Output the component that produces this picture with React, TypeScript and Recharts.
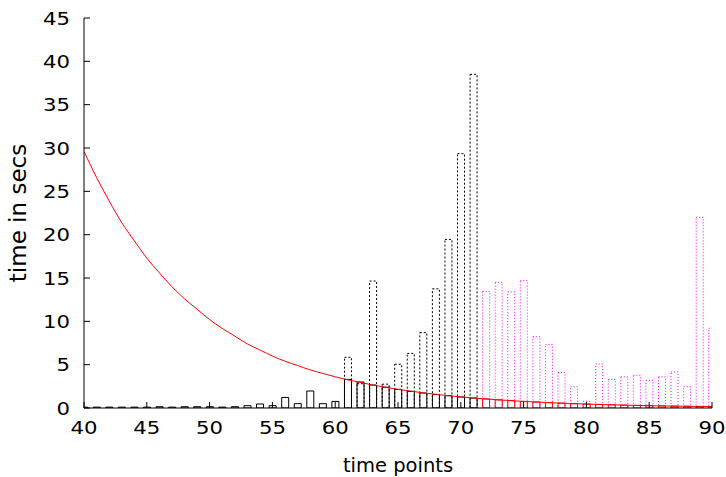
import React from 'react';
import { ComposedChart, Bar, Line, XAxis, YAxis } from 'recharts';

// time points on the x axis
const timePoints = [
  40, 41, 42, 43, 44, 45, 46, 47, 48, 49, 50, 51, 52, 53, 54, 55, 56, 57, 58, 59, 60,
  61, 62, 63, 64, 65, 66, 67, 68, 69, 70, 71, 72, 73, 74, 75, 76, 77, 78, 79, 80,
  81, 82, 83, 84, 85, 86, 87, 88, 89, 90,
];

// solid black boxes, time points 40..60
const measuredStart = 40;
const measured = [
  0.1, 0.1, 0.1, 0.1, 0.1, 0.1, 0.15, 0.1, 0.15, 0.15, 0.15,
  0.1, 0.15, 0.27, 0.46, 0.27, 1.22, 0.5, 1.96, 0.5, 0.76,
];

// dotted black boxes, time points 61..71
const observedStart = 61;
const observed = [5.85, 2.8, 14.65, 2.75, 5.05, 6.3, 8.7, 13.75, 19.45, 29.35, 38.5];

// solid black fit boxes, time points 61..71
const fitObserved = [3.3, 3.0, 2.65, 2.4, 2.15, 1.92, 1.73, 1.55, 1.42, 1.27, 1.15];

// dotted magenta boxes, time points 72..90
const predictedStart = 72;
const predicted = [
  13.45, 14.5, 13.4, 14.7, 8.23, 7.3, 4.1, 2.46, 0.77, 5.07,
  3.3, 3.6, 3.77, 3.19, 3.6, 4.15, 2.46, 22.0, 9.2,
];

// red fit boxes, time points 72..90
const fitPredicted = [
  1.04, 0.94, 0.85, 0.76, 0.69, 0.62, 0.56, 0.5, 0.45, 0.41,
  0.37, 0.33, 0.3, 0.27, 0.24, 0.22, 0.2, 0.18, 0.16,
];

// red fitted curve, time points 40..90
const fitCurve = [
  29.6, 26.6, 23.9, 21.4, 19.3, 17.3, 15.6, 14.0, 12.6, 11.4, 10.2,
  9.2, 8.3, 7.4, 6.7, 6.0, 5.4, 4.9, 4.4, 4.0, 3.6,
  3.25, 2.95, 2.65, 2.4, 2.15, 1.95, 1.75, 1.58, 1.42, 1.28,
  1.15, 1.04, 0.94, 0.85, 0.76, 0.69, 0.62, 0.56, 0.5, 0.45,
  0.41, 0.37, 0.33, 0.3, 0.27, 0.24, 0.22, 0.2, 0.18, 0.16,
];

const xTicks = [40, 45, 50, 55, 60, 65, 70, 75, 80, 85, 90];
const yTicks = [0, 5, 10, 15, 20, 25, 30, 35, 40, 45];

const pick = (arr: number[], start: number, x: number) => {
  const v = arr[x - start];
  return v === undefined ? null : v;
};

const data = timePoints.map((x) => ({
  x,
  measured: pick(measured, measuredStart, x),
  observed: pick(observed, observedStart, x),
  fitObserved: pick(fitObserved, observedStart, x),
  predicted: pick(predicted, predictedStart, x),
  fitPredicted: pick(fitPredicted, predictedStart, x),
  curve: pick(fitCurve, measuredStart, x),
}));

const FONT = '"DejaVu Sans", sans-serif';
const STRETCH = 1.18;
const TICK = 6;

const BottomTick = (props: any) => {
  const { x, y, payload } = props;
  return (
    <g>
      <line x1={x} y1={y} x2={x} y2={y - TICK} stroke="#000" />
      <text
        transform={`translate(${x},${y + 26}) scale(${STRETCH},1)`}
        textAnchor="middle"
        fontFamily={FONT}
        fontSize={18}
        fill="#000"
      >
        {payload.value}
      </text>
    </g>
  );
};

const TopTick = (props: any) => {
  const { x, y } = props;
  return <line x1={x} y1={y} x2={x} y2={y + TICK} stroke="#000" />;
};

const LeftTick = (props: any) => {
  const { x, y, payload } = props;
  return (
    <g>
      <line x1={x} y1={y} x2={x + TICK} y2={y} stroke="#000" />
      <text
        transform={`translate(${x - 14},${y + 6.5}) scale(${STRETCH},1)`}
        textAnchor="end"
        fontFamily={FONT}
        fontSize={18}
        fill="#000"
      >
        {payload.value}
      </text>
    </g>
  );
};

const RightTick = (props: any) => {
  const { x, y } = props;
  return <line x1={x} y1={y} x2={x - TICK} y2={y} stroke="#000" />;
};

const XTitle = (props: any) => {
  const vb = props.viewBox;
  return (
    <text
      x={vb.x + vb.width / 2}
      y={vb.y + 64}
      textAnchor="middle"
      fontFamily={FONT}
      fontSize={19.5}
      fill="#000"
    >
      time points
    </text>
  );
};

const YTitle = (props: any) => {
  const vb = props.viewBox;
  return (
    <text
      transform={`translate(25.5,${vb.y + vb.height / 2}) rotate(-90)`}
      textAnchor="middle"
      fontFamily={FONT}
      fontSize={23}
      fill="#000"
    >
      time in secs
    </text>
  );
};

export default function App() {
  return (
    <div style={{ width: 726, height: 477, background: '#fff' }}>
      <style>{'body{margin:0}'}</style>
      <ComposedChart
        width={726}
        height={477}
        data={data}
        margin={{ top: 18, right: 14, bottom: 0, left: 0 }}
        barSize={7}
        barGap={-7}
      >
        <XAxis
          xAxisId="bottom"
          dataKey="x"
          type="number"
          domain={[40, 90]}
          ticks={xTicks}
          interval={0}
          allowDataOverflow
          height={69}
          axisLine={{ stroke: '#000' }}
          tickLine={false}
          tickSize={0}
          tickMargin={0}
          tick={<BottomTick />}
          label={{ content: <XTitle /> }}
        />
        <XAxis
          xAxisId="top"
          orientation="top"
          dataKey="x"
          type="number"
          domain={[40, 90]}
          ticks={xTicks}
          interval={0}
          allowDataOverflow
          height={0}
          axisLine={{ stroke: '#000' }}
          tickLine={false}
          tickSize={0}
          tickMargin={0}
          tick={<TopTick />}
        />
        <YAxis
          yAxisId="left"
          type="number"
          domain={[0, 45]}
          ticks={yTicks}
          interval={0}
          allowDataOverflow
          width={84}
          axisLine={{ stroke: '#000' }}
          tickLine={false}
          tickSize={0}
          tickMargin={0}
          tick={<LeftTick />}
          label={{ content: <YTitle /> }}
        />
        <YAxis
          yAxisId="right"
          orientation="right"
          type="number"
          domain={[0, 45]}
          ticks={yTicks}
          interval={0}
          allowDataOverflow
          width={0}
          axisLine={{ stroke: '#000' }}
          tickLine={false}
          tickSize={0}
          tickMargin={0}
          tick={<RightTick />}
        />

        <Bar
          xAxisId="bottom"
          yAxisId="left"
          dataKey="measured"
          fill="none"
          stroke="#000"
          strokeWidth={1}
          isAnimationActive={false}
        />
        <Bar
          xAxisId="bottom"
          yAxisId="left"
          dataKey="observed"
          fill="none"
          stroke="#000"
          strokeWidth={1}
          strokeDasharray="2 2"
          isAnimationActive={false}
        />
        <Bar
          xAxisId="bottom"
          yAxisId="left"
          dataKey="fitObserved"
          fill="none"
          stroke="#000"
          strokeWidth={1}
          isAnimationActive={false}
        />
        <Bar
          xAxisId="bottom"
          yAxisId="left"
          dataKey="predicted"
          fill="none"
          stroke="#ff00ff"
          strokeWidth={1}
          strokeDasharray="1 2"
          isAnimationActive={false}
        />
        <Bar
          xAxisId="bottom"
          yAxisId="left"
          dataKey="fitPredicted"
          fill="none"
          stroke="#ff0000"
          strokeWidth={1}
          isAnimationActive={false}
        />
        <Line
          xAxisId="top"
          yAxisId="right"
          dataKey="curve"
          type="monotone"
          stroke="#ff0000"
          strokeWidth={1}
          dot={false}
          activeDot={false}
          isAnimationActive={false}
        />
      </ComposedChart>
    </div>
  );
}
